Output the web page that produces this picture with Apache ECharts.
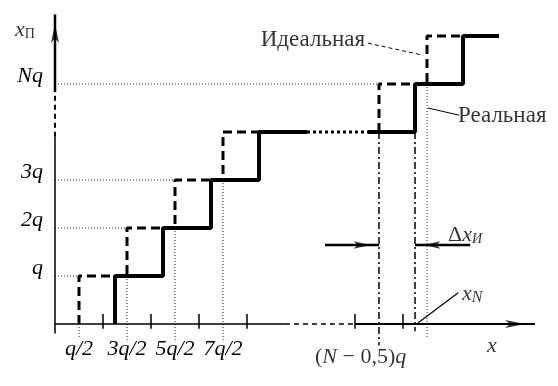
<!DOCTYPE html>
<html>
<head>
<meta charset="utf-8">
<script src="https://cdn.jsdelivr.net/npm/echarts@6/dist/echarts.min.js"></script>
<style>html,body{margin:0;padding:0;background:#fff}#c{width:558px;height:386px}</style>
</head>
<body>
<div id="c"></div>
<script>
// ---- data (in units of q; axes are drawn with a break, NX = position of Nq on x) ----
const NX = 7.25;
const yTicks = [1, 2, 3, 5];
const yTickText = ['q', '2q', '3q', 'Nq'];
const xTicks = [0.5, 1.5, 2.5, 3.5];
const xTickText = ['q/2', '3q/2', '5q/2', '7q/2'];
const tickMarks = [1, 2, 3, 4, NX - 1, NX];

const idealLeft = [[0.5,0],[0.5,1],[1.5,1],[1.5,2],[2.5,2],[2.5,3],[3.5,3],[3.5,4],[4.25,4]];
const idealRight = [[NX-0.5,4],[NX-0.5,5],[NX+0.5,5],[NX+0.5,6],[NX+1.25,6]];
const realLeft = [[1.25,0],[1.25,1],[2.25,1],[2.25,2],[3.25,2],[3.25,3],[4.25,3],[4.25,4],[5.25,4]];
const realGap = [[5.25,4],[6.52,4]];
const realRight = [[6.52,4],[NX+0.25,4],[NX+0.25,5],[NX+1.25,5],[NX+1.25,6],[NX+2,6]];

const guideH = [[[0,1],[0.5,1]], [[0,2],[1.5,2]], [[0,3],[2.5,3]], [[0,5],[NX-0.5,5]]];
const guideV = [[[0.5,0],[0.5,-0.3]], [[1.5,1],[1.5,-0.38]], [[2.5,2],[2.5,-0.38]], [[3.5,3],[3.5,-0.38]], [[NX+0.5,5],[NX+0.5,-0.3]]];
const dashDotV = [[[NX-0.5,4],[NX-0.5,-0.45]], [[NX+0.25,4],[NX+0.25,-0.15]]];

const yAxisLower = [[0,-0.2],[0,3.9]];
const yAxisGap = [[0,3.9],[0,4.83]];
const yAxisUpper = [[0,4.83],[0,6.45]];
const xAxisLeft = [[0,0],[4.79,0]];
const xAxisGap = [[4.79,0],[NX-1,0]];
const xAxisRight = [[NX-1,0],[10,0]];

const deltaArrowL = [[5.625,1.646],[NX-0.5,1.646]];
const deltaArrowR = [[8.65,1.646],[NX+0.25,1.646]];

const leaderIdeal = [[6.52,5.85],[7.67,5.6]];
const leaderReal = [[7.77,4.5],[8.42,4.35]];
const leaderXN = [[NX+0.31,0.02],[8.4,0.65]];

// ---- styling / building ----
const FONT = 'Liberation Serif';
function line(points, style, z) {
  return { type: 'line', data: points, symbol: 'none', showSymbol: false, clip: false,
    silent: true, animation: false, z: z || 2,
    lineStyle: Object.assign({ color: '#000', width: 1 }, style) };
}
// arrowhead at the last point of a polyline, oriented along its last segment
function arrowHead(points, size) {
  const a = points[points.length - 2], b = points[points.length - 1];
  const dx = b[0] - a[0], dy = b[1] - a[1];
  const len = Math.hypot(dx, dy);
  const ang = Math.atan2(dy, dx) * 180 / Math.PI;
  const h = size[1] / 2;
  return { type: 'scatter', data: [b], symbol: 'arrow', symbolSize: size, clip: false,
    symbolRotate: ang - 90, symbolOffset: [-h * dx / len, h * dy / len],
    itemStyle: { color: '#000' }, silent: true, animation: false, z: 6 };
}
function arrow(points, width, size) {
  return [line(points, { width: width }, 3), arrowHead(points, size)];
}

const ital = { fontFamily: FONT, fontStyle: 'italic', fontSize: 22, color: '#000', verticalAlign: 'bottom' };
const up = { fontFamily: FONT, fontSize: 22, color: '#000', verticalAlign: 'bottom' };
const mk = (base, extra) => Object.assign({}, base, extra);
function note(pt, text, rich, align) {
  return { type: 'scatter', data: [pt], symbolSize: 0, clip: false, silent: true, animation: false, z: 5,
    label: { show: true, position: [0, 0], align: align || 'left', verticalAlign: 'top',
      formatter: text, rich: rich } };
}

const series = [];
guideH.forEach(p => series.push(line(p, { width: 1, type: [1, 2], color: '#222' }, 1)));
guideV.forEach(p => series.push(line(p, { width: 1, type: [1, 2], color: '#222' }, 1)));
dashDotV.forEach(p => series.push(line(p, { width: 1.5, type: [7, 3, 2, 3] }, 1)));
series.push(line(yAxisLower, { width: 1.5 }));
series.push(line(yAxisGap, { width: 2, type: [5, 4] }));
series.push(...arrow(yAxisUpper, 2.5, [6, 19]));
series.push(line(xAxisLeft, { width: 1.5 }));
series.push(line(xAxisGap, { width: 1.5, type: [5, 4] }));
series.push(...arrow(xAxisRight, 2, [6, 20]));
tickMarks.forEach(t => series.push(line([[t,-0.1],[t,0.21]], { width: 1.5 })));
series.push(line(idealLeft, { width: 3, type: [9, 5] }, 3));
series.push(line(idealRight, { width: 3, type: [9, 5] }, 3));
series.push(line(realLeft, { width: 4 }, 4));
series.push(line(realGap, { width: 3, type: [3, 3] }, 4));
series.push(line(realRight, { width: 4 }, 4));
series.push(...arrow(deltaArrowL, 2.5, [5.5, 17]));
series.push(...arrow(deltaArrowR, 2.5, [5.5, 17]));
series.push(line(leaderIdeal, { width: 1, type: [4, 3] }));
series.push(line(leaderReal, { width: 1 }));
series.push(line(leaderXN, { width: 1.2 }));

series.push(note([-0.833, 6.344], '{i|x}{s|П}', { i: mk(ital, { lineHeight: 22 }), s: mk(up, { fontSize: 14, lineHeight: 14 }) }));
series.push(note([6.458, 6.152], '{t|Идеальная}', { t: mk(up, { fontSize: 23, lineHeight: 23 }) }, 'right'));
series.push(note([8.396, 4.569], '{t|Реальная}', { t: mk(up, { fontSize: 23, lineHeight: 23 }) }));
series.push(note([8.188, 2.073], '{u|Δ}{i|x}{s|И}', { u: mk(up, { lineHeight: 22 }), i: mk(ital, { lineHeight: 22 }), s: mk(ital, { fontSize: 14, lineHeight: 17 }) }));
series.push(note([8.479, 1.219], '{i|x}{s|N}', { i: mk(ital, { lineHeight: 40 }), s: mk(ital, { fontSize: 16, lineHeight: 16 }) }));
series.push(note([9.0, -0.24], '{i|x}', { i: mk(ital, { lineHeight: 22 }) }));
series.push(note([5.417, -0.469], '{u|(}{i|N}{u| − 0,5)}{i|q}', { u: mk(up, { lineHeight: 22 }), i: mk(ital, { lineHeight: 22 }) }));

const chart = echarts.init(document.getElementById('c'), null, { renderer: 'canvas' });
chart.setOption({
  backgroundColor: '#fff',
  animation: false,
  grid: { left: 55, right: 23, top: 12, bottom: 62, containLabel: false },
  xAxis: { type: 'value', min: 0, max: 10, interval: 0.25,
    axisLine: { show: false }, axisTick: { show: false }, splitLine: { show: false },
    axisLabel: { show: true, margin: 14, fontFamily: FONT, fontStyle: 'italic', fontSize: 22, color: '#000', lineHeight: 22,
      formatter: v => { const k = xTicks.findIndex(t => Math.abs(t - v) < 1e-6); return k >= 0 ? xTickText[k] : ''; } } },
  yAxis: { type: 'value', min: 0, max: 6.5, interval: 1,
    axisLine: { show: false }, axisTick: { show: false }, splitLine: { show: false },
    axisLabel: { show: true, margin: 12, fontFamily: FONT, fontStyle: 'italic', fontSize: 22, color: '#000', lineHeight: 15, verticalAlign: 'bottom', align: 'right',
      formatter: v => { const k = yTicks.findIndex(t => Math.abs(t - v) < 1e-6); return k >= 0 ? yTickText[k] : ''; } } },
  series: series
});
</script>
</body>
</html>
